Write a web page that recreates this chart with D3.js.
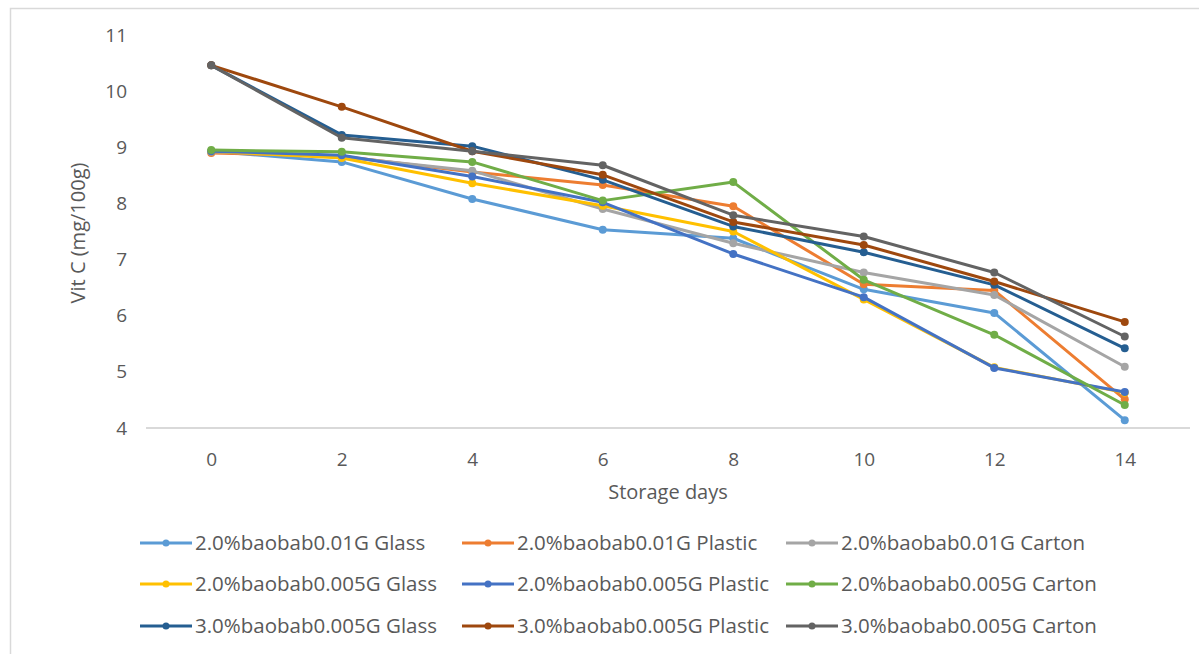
<!DOCTYPE html>
<html>
<head>
<meta charset="utf-8">
<script src="https://cdn.jsdelivr.net/npm/d3@7"></script>
<style>
  html, body { margin: 0; padding: 0; background: #fff; }
  svg { display: block; font-family: "Open Sans", "Noto Sans", sans-serif; }
</style>
</head>
<body>
<svg id="chart" width="1199" height="654"></svg>
<script>
// Storage days (x categories)
const days = [0, 2, 4, 6, 8, 10, 12, 14];
const yTicks = [4, 5, 6, 7, 8, 9, 10, 11];

// Vitamin C content (mg/100g) per formulation and packaging
const glass201   = [8.93, 8.74, 8.08, 7.53, 7.38, 6.47, 6.05, 4.14];
const plastic201 = [8.90, 8.84, 8.56, 8.33, 7.95, 6.56, 6.45, 4.51];
const carton201  = [8.92, 8.83, 8.58, 7.90, 7.29, 6.77, 6.37, 5.09];
const glass2005  = [8.93, 8.81, 8.36, 7.96, 7.50, 6.29, 5.08, 4.63];
const plastic2005 = [8.93, 8.86, 8.48, 8.02, 7.10, 6.33, 5.07, 4.64];
const carton2005 = [8.95, 8.92, 8.74, 8.05, 8.38, 6.64, 5.66, 4.41];
const glass3005  = [10.46, 9.22, 9.02, 8.42, 7.59, 7.13, 6.55, 5.42];
const plastic3005 = [10.46, 9.72, 8.93, 8.51, 7.67, 7.26, 6.61, 5.89];
const carton3005 = [10.46, 9.17, 8.93, 8.68, 7.79, 7.41, 6.77, 5.63];

const seriesNames = [
  "2.0%baobab0.01G Glass", "2.0%baobab0.01G Plastic", "2.0%baobab0.01G Carton",
  "2.0%baobab0.005G Glass", "2.0%baobab0.005G Plastic", "2.0%baobab0.005G Carton",
  "3.0%baobab0.005G Glass", "3.0%baobab0.005G Plastic", "3.0%baobab0.005G Carton"
];
const seriesValues = [glass201, plastic201, carton201, glass2005, plastic2005,
                      carton2005, glass3005, plastic3005, carton3005];
const seriesColors = ["#5B9BD5", "#ED7D31", "#A5A5A5", "#FFC000", "#4472C4",
                      "#70AD47", "#255E91", "#9E480E", "#636363"];

const series = seriesNames.map((name, i) => ({
  name, color: seriesColors[i],
  points: days.map((d, j) => ({ day: d, value: seriesValues[i][j] }))
}));

const svg = d3.select("#chart");
const textColor = "#595959";

// chart frame
svg.append("rect")
  .attr("x", 10.5).attr("y", 8.5)
  .attr("width", 1250).attr("height", 700)
  .attr("fill", "none").attr("stroke", "#D9D9D9").attr("stroke-width", 1.5);

const x = d3.scaleLinear().domain([-1, 15]).range([146, 1190]);
const y = d3.scaleLinear().domain([4, 11]).range([428, 35]);

// horizontal axis line
svg.append("line")
  .attr("x1", x(-1)).attr("x2", x(15))
  .attr("y1", y(4)).attr("y2", y(4))
  .attr("stroke", "#D9D9D9").attr("stroke-width", 2);

// y tick labels
const yAxis = d3.axisLeft(y).tickValues(yTicks).tickFormat(d3.format("d"))
  .tickSize(0).tickPadding(0);
const gy = svg.append("g").attr("transform", "translate(127,0)").call(yAxis);
gy.select(".domain").remove();
gy.selectAll("text")
  .attr("fill", textColor).attr("font-size", 19)
  .attr("font-family", "'Open Sans', sans-serif");

// x tick labels
const xAxis = d3.axisBottom(x).tickValues(days).tickFormat(d3.format("d"))
  .tickSize(0).tickPadding(0);
const gx = svg.append("g").attr("transform", "translate(0,452)").call(xAxis);
gx.select(".domain").remove();
gx.selectAll("text")
  .attr("fill", textColor).attr("font-size", 19)
  .attr("font-family", "'Open Sans', sans-serif");

// axis titles
svg.append("text")
  .attr("x", 668).attr("y", 499)
  .attr("text-anchor", "middle")
  .attr("fill", textColor).attr("font-size", 20)
  .text("Storage days");

svg.append("text")
  .attr("transform", "translate(85,233) rotate(-90)")
  .attr("text-anchor", "middle")
  .attr("fill", textColor).attr("font-size", 20)
  .text("Vit C (mg/100g)");

// lines and markers
const line = d3.line().x(d => x(d.day)).y(d => y(d.value));
const gSeries = svg.append("g");
series.forEach(s => {
  const g = gSeries.append("g");
  g.append("path")
    .datum(s.points)
    .attr("d", line)
    .attr("fill", "none")
    .attr("stroke", s.color)
    .attr("stroke-width", 3)
    .attr("stroke-linejoin", "round");
  g.selectAll("circle")
    .data(s.points)
    .join("circle")
    .attr("cx", d => x(d.day))
    .attr("cy", d => y(d.value))
    .attr("r", 4)
    .attr("fill", s.color);
});

// legend: three columns, three rows
const legendCols = [140, 462, 786];
const legendRows = [543, 584, 626];
const lg = svg.append("g");
series.forEach((s, i) => {
  const lx = legendCols[i % 3];
  const ly = legendRows[Math.floor(i / 3)];
  const item = lg.append("g").attr("transform", `translate(${lx},${ly})`);
  item.append("line")
    .attr("x1", 0).attr("x2", 52).attr("y1", 0).attr("y2", 0)
    .attr("stroke", s.color).attr("stroke-width", 3);
  item.append("circle")
    .attr("cx", 26).attr("cy", 0).attr("r", 3.5).attr("fill", s.color);
  item.append("text")
    .attr("x", 55).attr("y", 0).attr("dy", "0.35em")
    .attr("fill", textColor).attr("font-size", 20.5)
    .text(s.name);
});
</script>
</body>
</html>
